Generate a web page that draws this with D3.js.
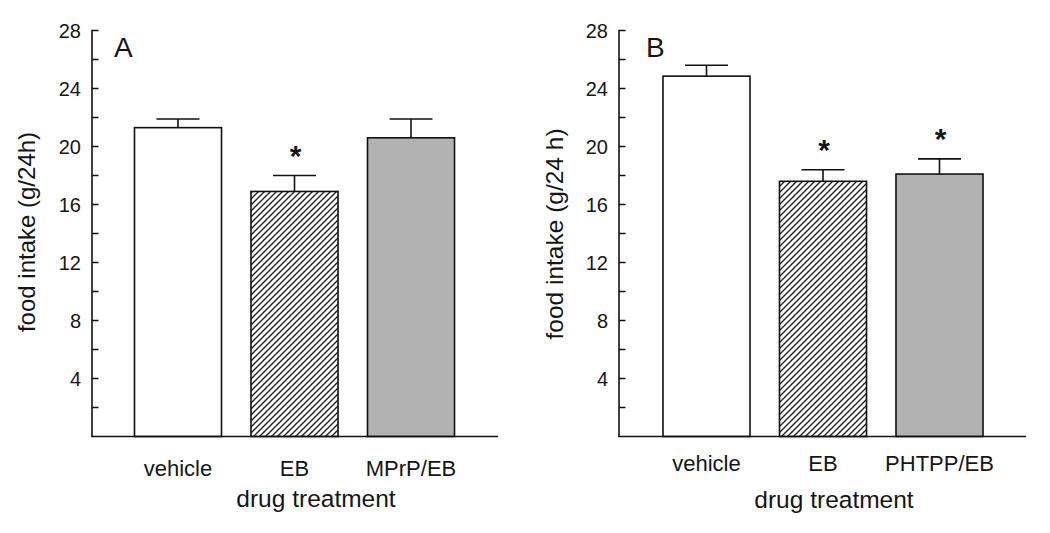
<!DOCTYPE html>
<html><head><meta charset="utf-8">
<script src="https://cdn.jsdelivr.net/npm/d3@7"></script>
<style>body{margin:0;background:#fff}svg{display:block}text{font-family:"Liberation Sans",Arial,sans-serif;fill:#151515}</style>
</head><body><svg id="c" width="1050" height="533"></svg>
<script>
const categoriesA = ["vehicle", "EB", "MPrP/EB"];
const meansA = [21.3, 16.9, 20.6];
const errorsA = [0.6, 1.1, 1.3];
const sigA = [false, true, false];

const categoriesB = ["vehicle", "EB", "PHTPP/EB"];
const meansB = [24.85, 17.6, 18.1];
const errorsB = [0.75, 0.8, 1.05];
const sigB = [false, true, true];

const fills = ["#ffffff", "url(#hatch)", "#b2b2b2"];
const yTickLabels = [4, 8, 12, 16, 20, 24, 28];
const yMinorTicks = [2, 4, 6, 8, 10, 12, 14, 16, 18, 20, 22, 24, 26, 28];

const svg = d3.select("#c");
const defs = svg.append("defs");
const pat = defs.append("pattern").attr("id", "hatch").attr("patternUnits", "userSpaceOnUse")
  .attr("width", 6).attr("height", 6);
pat.append("rect").attr("width", 6).attr("height", 6).attr("fill", "#fff");
pat.append("path").attr("d", "M-1,1 l2,-2 M0,6 l6,-6 M5,7 l2,-2")
  .attr("stroke", "#222").attr("stroke-width", 1.4);

function panel(o) {
  const g = svg.append("g");
  const y = d3.scaleLinear().domain([0, 28]).range([436.5, 30.5]);
  const x = d3.scaleBand().domain(o.cats).range(o.band).paddingInner(0.253).paddingOuter(0.1265);

  // bars
  g.selectAll("rect.bar").data(o.cats).join("rect").attr("class", "bar")
    .attr("x", d => x(d)).attr("width", x.bandwidth())
    .attr("y", (d, i) => y(o.means[i])).attr("height", (d, i) => y(0) - y(o.means[i]))
    .attr("fill", (d, i) => fills[i]).attr("stroke", "#111").attr("stroke-width", 1.6);

  // error bars
  o.cats.forEach((c, i) => {
    const cx = x(c) + x.bandwidth() / 2;
    const top = y(o.means[i] + o.errs[i]);
    g.append("line").attr("x1", cx).attr("x2", cx).attr("y1", y(o.means[i])).attr("y2", top)
      .attr("stroke", "#111").attr("stroke-width", 1.6);
    g.append("line").attr("x1", cx - 21.5).attr("x2", cx + 21.5).attr("y1", top).attr("y2", top)
      .attr("stroke", "#111").attr("stroke-width", 1.6);
    if (o.sig[i]) {
      g.append("text").attr("x", cx + 1).attr("y", top - 10).attr("text-anchor", "middle")
        .attr("font-size", 30).attr("font-weight", "bold").text("*");
    }
    g.append("text").attr("x", cx).attr("y", o.catY).attr("text-anchor", "middle")
      .attr("font-size", 22).text(c);
  });

  // axes
  g.append("line").attr("x1", o.ax).attr("x2", o.ax).attr("y1", y(28) - 0.8).attr("y2", y(0))
    .attr("stroke", "#111").attr("stroke-width", 1.6);
  g.append("line").attr("x1", o.ax - 0.8).attr("x2", o.xEnd).attr("y1", y(0)).attr("y2", y(0))
    .attr("stroke", "#111").attr("stroke-width", 1.6);
  g.selectAll("line.tk").data(yMinorTicks).join("line").attr("class", "tk")
    .attr("x1", o.ax).attr("x2", o.ax + 6.5).attr("y1", d => y(d)).attr("y2", d => y(d))
    .attr("stroke", "#111").attr("stroke-width", 1.5);
  g.selectAll("text.tl").data(yTickLabels).join("text").attr("class", "tl")
    .attr("x", o.ax - 11).attr("y", d => y(d)).attr("dy", "0.36em").attr("text-anchor", "end")
    .attr("font-size", 20).text(d => d);

  // labels
  g.append("text").attr("transform", `translate(${o.ylx},${o.yly}) rotate(-90)`)
    .attr("text-anchor", "middle").attr("font-size", o.ylSize).text(o.ylabel);
  g.append("text").attr("x", o.xlx).attr("y", o.xly).attr("text-anchor", "middle")
    .attr("font-size", 24.5).text("drug treatment");
  g.append("text").attr("x", o.lx).attr("y", 57).attr("font-size", 28).text(o.letter);
}

panel({cats: categoriesA, means: meansA, errs: errorsA, sig: sigA, band: [119.75, 469.25],
  ax: 92, xEnd: 498, catY: 476, ylx: 35, yly: 232, ylSize: 24, ylabel: "food intake (g/24h)",
  xlx: 316, xly: 507, lx: 114, letter: "A"});
panel({cats: categoriesB, means: meansB, errs: errorsB, sig: sigB, band: [648.25, 997.75],
  ax: 619, xEnd: 1026, catY: 471, ylx: 563, yly: 234, ylSize: 24.5, ylabel: "food intake (g/24 h)",
  xlx: 834, xly: 508, lx: 646, letter: "B"});
</script></body></html>
